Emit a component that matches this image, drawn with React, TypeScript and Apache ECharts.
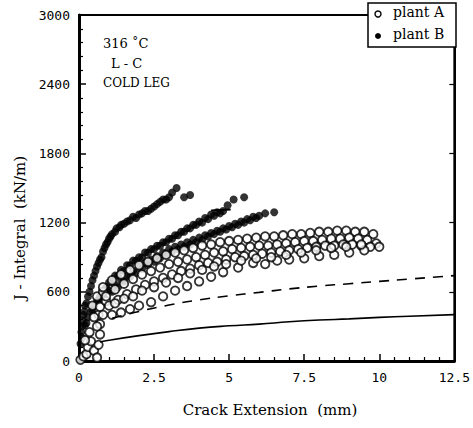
import React, { useEffect, useRef } from "react";
import * as echarts from "echarts";

// Plant A (open circles): [crack extension mm, J kN/m]
const plantAStart: number[][] = [
  [0.05, 10], [0.15, 40], [0.25, 60], [0.3, 120], [0.4, 170], [0.2, 180], [0.35, 250],
  [0.5, 90], [0.6, 30], [0.65, 140], [0.7, 230], [0.7, 320], [0.6, 300], [0.65, 400],
  [0.5, 380], [0.45, 480], [0.7, 470], [0.6, 560], [0.8, 600], [0.9, 520],
];
const plantA1X = [0.8, 1.1, 1.4, 1.7, 2.0, 2.3, 2.6, 2.9, 3.2, 3.5, 3.8, 4.1, 4.4, 4.7, 5.0, 5.3, 5.6, 5.9, 6.2, 6.5, 6.8, 7.1, 7.4, 7.7, 8.0, 8.3, 8.6, 8.9, 9.2, 9.5, 9.8];
const plantA1J = [640, 700, 750, 790, 830, 860, 890, 920, 940, 960, 980, 1000, 1010, 1030, 1040, 1050, 1060, 1070, 1080, 1080, 1090, 1100, 1100, 1110, 1120, 1120, 1130, 1130, 1120, 1120, 1100];
const plantA2X = [0.9, 1.2, 1.5, 1.8, 2.1, 2.4, 2.7, 3.0, 3.3, 3.6, 3.9, 4.2, 4.5, 4.8, 5.1, 5.4, 5.7, 6.0, 6.3, 6.6, 6.9, 7.2, 7.5, 7.8, 8.1, 8.4, 8.7, 9.0, 9.3, 9.6, 9.9];
const plantA2J = [560, 620, 670, 710, 750, 780, 810, 840, 860, 880, 900, 920, 940, 950, 970, 980, 990, 1000, 1000, 1010, 1020, 1030, 1040, 1040, 1050, 1060, 1060, 1070, 1060, 1050, 1020];
const plantA3X = [1.0, 1.3, 1.6, 1.9, 2.2, 2.5, 2.8, 3.1, 3.4, 3.7, 4.0, 4.3, 4.6, 4.9, 5.2, 5.5, 5.8, 6.1, 6.4, 6.7, 7.0, 7.3, 7.6, 7.9, 8.2, 8.5, 8.8, 9.1, 9.4, 9.7, 10.0];
const plantA3J = [480, 530, 580, 620, 660, 690, 720, 750, 780, 800, 830, 850, 860, 880, 900, 910, 920, 930, 940, 950, 960, 970, 980, 990, 1000, 1000, 1010, 1010, 1000, 990, 990];
const plantA4X = [0.8, 1.1, 1.4, 1.7, 2.0, 2.4, 2.8, 3.2, 3.6, 4.0, 4.4, 4.8, 5.3, 5.8, 6.2, 6.6, 7.0, 7.5, 8.0, 8.5, 9.0, 9.5];
const plantA4J = [400, 400, 420, 450, 480, 510, 560, 610, 650, 690, 730, 770, 810, 850, 840, 870, 880, 890, 910, 920, 940, 960];
const plantA5X = [1.2, 1.5, 1.8, 2.1, 2.5, 2.9, 3.3, 3.7, 4.1, 4.5, 4.9, 5.4, 5.9, 6.4, 6.9, 7.4, 7.9, 8.4, 8.9, 9.4];
const plantA5J = [500, 540, 560, 610, 640, 680, 720, 760, 790, 820, 840, 870, 890, 900, 920, 940, 960, 980, 990, 1010];

// Plant B (filled circles)
const plantB1X = [0.05, 0.1, 0.15, 0.2, 0.3, 0.4, 0.5, 0.6, 0.7, 0.8, 0.9, 1.0, 1.1, 1.25, 1.4, 1.6, 1.8, 2.0, 2.2, 2.4, 2.6, 2.8, 3.0, 3.25, 3.5, 3.7];
const plantB1J = [150, 300, 400, 480, 560, 650, 740, 820, 880, 950, 1010, 1060, 1100, 1150, 1180, 1210, 1250, 1270, 1300, 1320, 1360, 1400, 1420, 1500, 1420, 1440];
const plantB1bX = [0.08, 0.12, 0.18, 0.25, 0.35, 0.45, 0.55, 0.65, 0.75, 0.85, 0.95, 1.05, 1.2, 1.35, 1.5, 1.7, 1.9, 2.1, 2.3, 2.5, 2.7, 2.9, 3.1];
const plantB1bJ = [250, 350, 430, 500, 600, 700, 780, 850, 900, 980, 1030, 1080, 1120, 1160, 1190, 1220, 1240, 1280, 1300, 1340, 1380, 1400, 1460];
const plantB2X = [0.1, 0.2, 0.3, 0.4, 0.5, 0.6, 0.7, 0.8, 0.9, 1.0, 1.2, 1.4, 1.6, 1.8, 2.0, 2.2, 2.4, 2.6, 2.8, 3.0, 3.2, 3.4, 3.6, 3.8, 4.0, 4.2, 4.4, 4.6, 4.8, 4.95, 5.15, 5.5];
const plantB2J = [200, 310, 380, 430, 480, 520, 560, 600, 640, 680, 740, 790, 830, 870, 900, 940, 970, 1000, 1030, 1060, 1090, 1120, 1150, 1180, 1210, 1240, 1270, 1290, 1300, 1350, 1400, 1420];
const plantB2bX = [0.25, 0.45, 0.65, 0.85, 1.1, 1.3, 1.5, 1.7, 1.9, 2.1, 2.3, 2.5, 2.7, 2.9, 3.1, 3.3, 3.5, 3.7, 3.9, 4.1, 4.3, 4.5, 4.7];
const plantB2bJ = [330, 440, 530, 610, 690, 740, 780, 830, 870, 900, 940, 970, 1000, 1030, 1060, 1090, 1120, 1150, 1180, 1200, 1230, 1260, 1280];
const plantB3X = [0.8, 1.0, 1.2, 1.4, 1.6, 1.8, 2.0, 2.2, 2.4, 2.6, 2.8, 3.0, 3.2, 3.4, 3.6, 3.8, 4.0, 4.2, 4.4, 4.6, 4.8, 5.0, 5.2, 5.4, 5.6, 5.8, 6.0, 6.2, 6.5];
const plantB3J = [560, 610, 660, 700, 740, 780, 820, 850, 880, 910, 940, 970, 990, 1010, 1030, 1050, 1070, 1090, 1110, 1130, 1150, 1170, 1190, 1210, 1230, 1250, 1260, 1280, 1290];
const plantB3bX = [1.1, 1.3, 1.5, 1.7, 1.9, 2.1, 2.3, 2.5, 2.7, 2.9, 3.1, 3.3, 3.5, 3.7, 3.9, 4.1, 4.3, 4.5, 4.7, 4.9, 5.1, 5.3, 5.5, 5.7, 5.9];
const plantB3bJ = [600, 640, 690, 730, 760, 800, 830, 860, 890, 920, 950, 970, 990, 1010, 1030, 1050, 1080, 1100, 1120, 1140, 1160, 1180, 1200, 1220, 1240];
const plantBSegX = [4.4, 5.05];
const plantBSegJ = [1305, 1314];

// Reference curves
const solidX = [0.7, 1, 2, 3, 4, 5, 6, 7, 8, 9, 10, 11, 12.5];
const solidJ = [165, 180, 220, 255, 285, 305, 320, 340, 355, 365, 378, 388, 402];
const dashedX = [1.1, 2, 3, 4, 5, 6, 7, 8, 9, 10, 11, 12.5];
const dashedJ = [370, 430, 485, 530, 565, 595, 625, 650, 670, 690, 710, 740];

const xTicks = [0, 2.5, 5, 7.5, 10, 12.5];
const yTicks = [0, 600, 1200, 1800, 2400, 3000];

const zip = (xs: number[], ys: number[]) => xs.map((x, i) => [x, ys[i]]);

export default function App() {
  const ref = useRef<HTMLDivElement>(null);
  useEffect(() => {
    if (!ref.current) return;
    const chart = echarts.init(ref.current, null, { renderer: "svg" });
    const plantA = [
      ...plantAStart,
      ...zip(plantA1X, plantA1J),
      ...zip(plantA2X, plantA2J),
      ...zip(plantA3X, plantA3J),
      ...zip(plantA4X, plantA4J),
      ...zip(plantA5X, plantA5J),
    ];
    const plantB = [
      ...zip(plantB1X, plantB1J),
      ...zip(plantB1bX, plantB1bJ),
      ...zip(plantB2X, plantB2J),
      ...zip(plantB2bX, plantB2bJ),
      ...zip(plantB3X, plantB3J),
      ...zip(plantB3bX, plantB3bJ),
    ];
    const tickFont = { fontFamily: "DejaVu Sans Mono", fontSize: 13, color: "#000" };
    const serif = "DejaVu Serif";
    chart.setOption({
      animation: false,
      backgroundColor: "#fff",
      grid: {
        left: 79, right: 16, top: 15, bottom: 67,
        show: true, borderColor: "#000", borderWidth: 2, backgroundColor: "transparent",
      },
      xAxis: {
        type: "value", min: xTicks[0], max: xTicks[xTicks.length - 1], interval: 2.5,
        axisLine: { lineStyle: { color: "#000", width: 3 } },
        axisTick: { inside: true, length: 7, lineStyle: { color: "#000", width: 1.5 } },
        minorTick: { show: true, splitNumber: 5, length: 4, lineStyle: { color: "#000", width: 1.2 } },
        splitLine: { show: false },
        axisLabel: { ...tickFont, margin: 10, formatter: (v: number) => String(v) },
      },
      yAxis: [
        {
          type: "value", min: yTicks[0], max: yTicks[yTicks.length - 1], interval: 600,
          axisLine: { lineStyle: { color: "#000", width: 3 } },
          axisTick: { inside: true, length: 7, lineStyle: { color: "#000", width: 1.5 } },
          minorTick: { show: true, splitNumber: 5, length: 4, lineStyle: { color: "#000", width: 1.2 } },
          splitLine: { show: false },
          axisLabel: { ...tickFont, margin: 9, formatter: (v: number) => String(v) },
        },
        {
          type: "value", position: "right", min: 0, max: 3000, interval: 600,
          axisLine: { show: true, lineStyle: { color: "#000", width: 2 } },
          axisTick: { inside: true, length: 5, lineStyle: { color: "#000", width: 1.2 } },
          axisLabel: { show: false },
          splitLine: { show: false },
        },
      ],
      series: [
        {
          name: "plant B", type: "scatter", data: plantB, symbol: "circle", symbolSize: 8,
          itemStyle: { color: "#000" }, z: 2,
        },
        {
          name: "plant B segment", type: "line", data: zip(plantBSegX, plantBSegJ), showSymbol: false,
          lineStyle: { color: "#000", width: 2 }, z: 2,
        },
        {
          name: "plant A", type: "scatter", data: plantA, symbol: "circle", symbolSize: 8.5,
          itemStyle: { color: "#fff", borderColor: "#000", borderWidth: 1.8 }, z: 3,
        },
        {
          name: "solid", type: "line", data: zip(solidX, solidJ), showSymbol: false, smooth: true,
          lineStyle: { color: "#000", width: 1.6 }, z: 4,
        },
        {
          name: "dashed", type: "line", data: zip(dashedX, dashedJ), showSymbol: false, smooth: true,
          lineStyle: { color: "#000", width: 1.6, type: [10, 8] }, z: 4,
        },
      ],
      graphic: [
        { type: "text", left: 103, top: 37, style: { text: "316 ˚C", font: `13px ${serif}`, fill: "#000" } },
        { type: "text", left: 111, top: 57, style: { text: "L - C", font: `13px ${serif}`, fill: "#000" } },
        { type: "text", left: 103, top: 77, style: { text: "COLD LEG", font: `12px ${serif}`, fill: "#000", letterSpacing: -0.5 } },
        {
          type: "rect", shape: { x: 368, y: 3, width: 88, height: 44 },
          style: { fill: "#fff", stroke: "#000", lineWidth: 1.5 }, z: 10,
        },
        { type: "circle", shape: { cx: 378, cy: 14, r: 3 }, style: { fill: "#fff", stroke: "#000", lineWidth: 1.4 }, z: 11 },
        { type: "text", left: 393, top: 5, style: { text: "plant A", font: `14px ${serif}`, fill: "#000" }, z: 11 },
        { type: "circle", shape: { cx: 378, cy: 36, r: 3 }, style: { fill: "#000" }, z: 11 },
        { type: "text", left: 393, top: 27, style: { text: "plant B", font: `14px ${serif}`, fill: "#000" }, z: 11 },
        {
          type: "text", x: 20, y: 228, rotation: Math.PI / 2,
          style: { text: "J - Integral  (kN/m)", font: `15px ${serif}`, fill: "#000", align: "center", verticalAlign: "middle" },
        },
        {
          type: "text", x: 270, y: 410,
          style: { text: "Crack Extension  (mm)", font: `15px ${serif}`, fill: "#000", align: "center", verticalAlign: "middle" },
        },
      ],
    });
    return () => chart.dispose();
  }, []);
  return <div ref={ref} style={{ position: "fixed", left: 0, top: 0, width: 473, height: 428 }} />;
}
